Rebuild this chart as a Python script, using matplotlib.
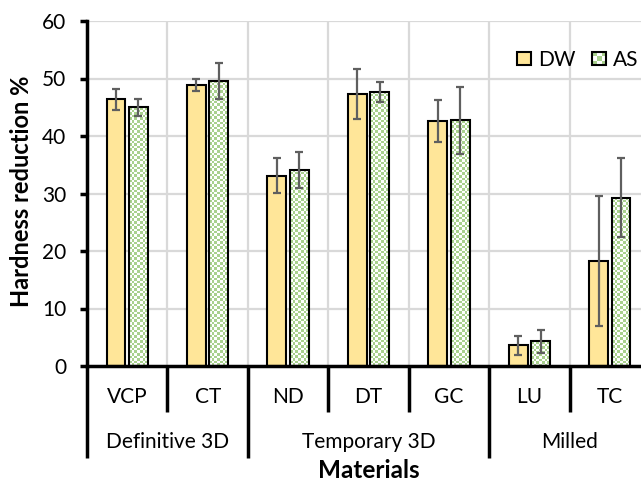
#!/usr/bin/env python3
# -*- coding: UTF-8 -*-

import numpy as np
from matplotlib import pyplot as plt
from matplotlib import transforms
from matplotlib.colors import ListedColormap
from matplotlib.patches import Rectangle
from matplotlib.legend_handler import HandlerBase

materials = ['VCP', 'CT', 'ND', 'DT', 'GC', 'LU', 'TC']
groups = ['Definitive 3D', 'Temporary 3D', 'Milled']
group_sizes = [2, 3, 2]

dw_mean = [46.4, 48.9, 33.1, 47.3, 42.6, 3.6, 18.2]
dw_sd = [1.8, 1.0, 3.0, 4.3, 3.6, 1.7, 11.3]
as_mean = [45.0, 49.6, 34.1, 47.7, 42.7, 4.3, 29.3]
as_sd = [1.5, 3.1, 3.1, 1.7, 5.9, 2.0, 6.8]

yticks = [0, 10, 20, 30, 40, 50, 60]

DW_COLOR = '#FFE699'
AS_GREEN = '#A9D18E'
ERR_COLOR = '#5F5F5F'
GRID_COLOR = '#D9D9D9'
checker_cmap = ListedColormap(['white', AS_GREEN])

plt.rcParams['font.family'] = ['Lato', 'DejaVu Sans']
FS = 15


class CheckerHandler(HandlerBase):
    def create_artists(self, legend, orig_handle, xdescent, ydescent,
                       width, height, fontsize, trans):
        arts = []
        n = 3
        cw, ch = width / n, height / n
        for i in range(n):
            for j in range(n):
                c = AS_GREEN if (i + j) % 2 == 0 else 'white'
                arts.append(Rectangle((-xdescent + i * cw, -ydescent + j * ch), cw, ch,
                                      facecolor=c, edgecolor='none', transform=trans))
        arts.append(Rectangle((-xdescent, -ydescent), width, height, facecolor='none',
                              edgecolor='black', lw=1.5, transform=trans))
        return arts


fig = plt.figure(figsize=(6.41, 4.82), dpi=100)
ax = fig.add_axes([87 / 641, 116 / 482, 563 / 641, 345 / 482])

x = np.arange(len(materials))
w = 0.235
off = 0.14

ax.set_xlim(-0.5, len(materials) - 0.5)
ax.set_ylim(0, 60)

# grid
for yv in yticks[1:]:
    ax.axhline(yv, color=GRID_COLOR, lw=1.6, zorder=0)
for b in np.arange(0.5, len(materials) - 0.5, 1.0):
    ax.axvline(b, color=GRID_COLOR, lw=1.6, zorder=0)

dw_bars = ax.bar(x - off, dw_mean, w, color=DW_COLOR, edgecolor='black', lw=1.5, zorder=3)
as_bars = ax.bar(x + off, as_mean, w, facecolor='none', edgecolor='black', lw=1.5, zorder=3)

# checkerboard fill for AS bars
cell = 2.6
for bar in as_bars:
    x0, y0 = bar.get_x(), bar.get_y()
    bw, bh = bar.get_width(), bar.get_height()
    p0 = ax.transData.transform((x0, y0))
    p1 = ax.transData.transform((x0 + bw, y0 + bh))
    nx = max(1, int(round((p1[0] - p0[0]) / cell)))
    ny = max(1, int(round((p1[1] - p0[1]) / cell)))
    ii, jj = np.indices((ny, nx))
    img = (ii + jj) % 2
    im = ax.imshow(img, cmap=checker_cmap, extent=(x0, x0 + bw, y0, y0 + bh),
                   aspect='auto', interpolation='nearest', origin='lower', zorder=2.5,
                   vmin=0, vmax=1)
    im.set_clip_path(bar)

ax.errorbar(x - off, dw_mean, yerr=dw_sd, fmt='none', ecolor=ERR_COLOR, elinewidth=1.6,
            capsize=3, capthick=1.6, zorder=4)
ax.errorbar(x + off, as_mean, yerr=as_sd, fmt='none', ecolor=ERR_COLOR, elinewidth=1.6,
            capsize=3, capthick=1.6, zorder=4)

ax.set_xlim(-0.5, len(materials) - 0.5)
ax.set_ylim(0, 60)

# spines and ticks
for s in ['top', 'right']:
    ax.spines[s].set_visible(False)
ax.spines['left'].set_linewidth(2.5)
ax.spines['bottom'].set_linewidth(2.5)
ax.spines['left'].set_zorder(5)
ax.spines['bottom'].set_zorder(5)
ax.set_yticks(yticks)
ax.tick_params(axis='y', direction='out', length=5, width=2.5, labelsize=FS, pad=10)
ax.set_xticks([])

# multi-level category axis
tr = transforms.blended_transform_factory(ax.transData, ax.transAxes)
for xi, name in zip(x, materials):
    ax.text(xi, -0.09, name, transform=tr, ha='center', va='center', fontsize=FS)

start = 0
group_bounds = [-0.5]
for g, n in zip(groups, group_sizes):
    center = start + (n - 1) / 2
    ax.text(center, -0.22, g, transform=tr, ha='center', va='center', fontsize=FS)
    start += n
    group_bounds.append(start - 0.5)

for b in np.arange(-0.5, len(materials), 1.0):
    depth = -0.267 if any(abs(b - gb) < 1e-6 for gb in group_bounds) else -0.133
    ax.plot([b, b], [0, depth], transform=tr, color='black', lw=2.5, clip_on=False,
            solid_capstyle='butt')

ax.text(0.5, -0.302, 'Materials', transform=ax.transAxes, ha='center', va='center',
        fontsize=17.5, fontweight='bold')
ax.set_ylabel('Hardness reduction %', fontsize=17, fontweight='bold')
ax.yaxis.set_label_coords(-0.096, 0.505)

leg = ax.legend([dw_bars, as_bars[0]], ['DW', 'AS'], handler_map={as_bars[0]: CheckerHandler()},
                loc='center left', bbox_to_anchor=(0.764, 0.887), ncol=2, frameon=False,
                fontsize=FS, handlelength=0.67, handleheight=0.6, handletextpad=0.34,
                columnspacing=0.8, borderpad=0, borderaxespad=0)

fig.savefig('out.png', dpi=100)
